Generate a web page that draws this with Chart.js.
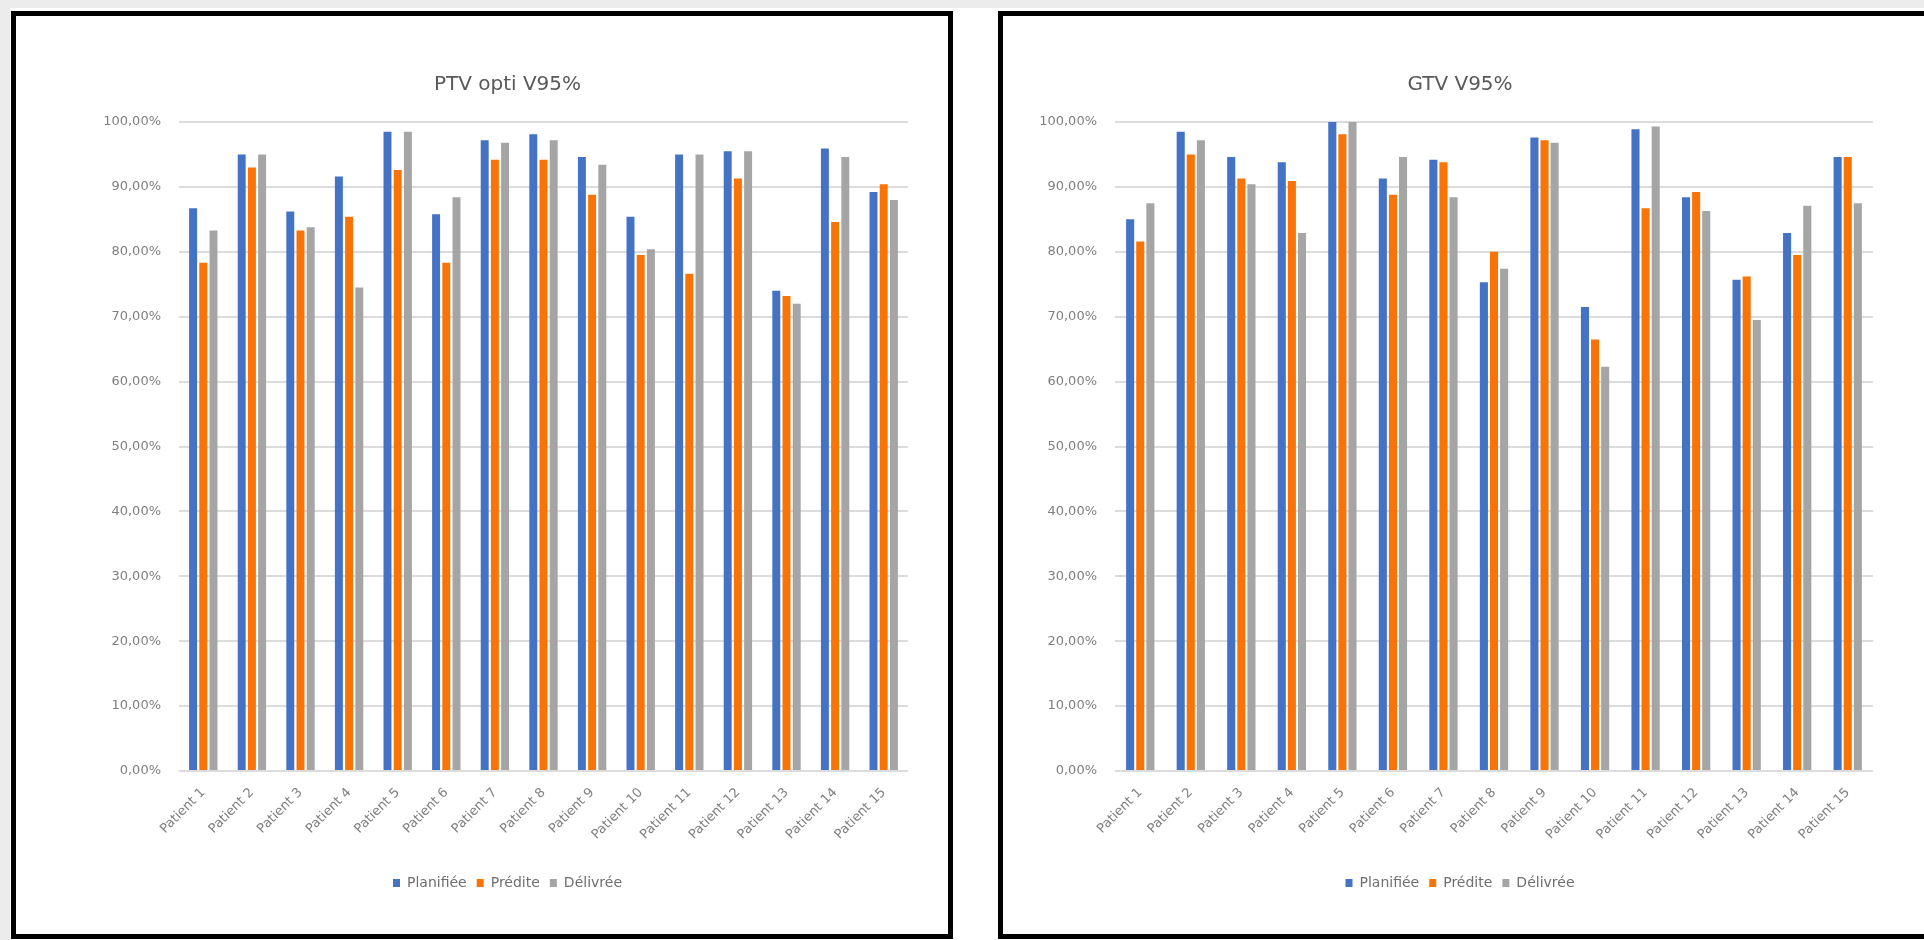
<!DOCTYPE html>
<html>
<head>
<meta charset="utf-8">
<script src="https://cdn.jsdelivr.net/npm/chart.js@4"></script>
<style>
    body { margin: 0; background: #ffffff; width: 1924px; height: 940px; overflow: hidden; position: relative; }
    .topStrip { position: absolute; left: 0; top: 0; width: 1924px; height: 8px; background: #ececec; }
    .leftStrip { position: absolute; left: 0; top: 0; width: 10px; height: 940px; background: #ececec; }
    .panel { position: absolute; border: 5px solid #000; background: #fff; box-sizing: border-box; }
    canvas { position: absolute; }
</style>
</head>
<body>
<div class="topStrip"></div>
<div class="leftStrip"></div>
<div class="panel" style="left:11px; top:11px; width:942px; height:928px;"></div>
<div class="panel" style="left:998px; top:11px; width:940px; height:928px;"></div>
<canvas id="ptvChart" width="879" height="920" style="left:68px; top:15px;"></canvas>
<canvas id="gtvChart" width="908" height="920" style="left:1006px; top:15px;"></canvas>
<script>
const patients = ["Patient 1", "Patient 2", "Patient 3", "Patient 4", "Patient 5", "Patient 6", "Patient 7", "Patient 8",
    "Patient 9", "Patient 10", "Patient 11", "Patient 12", "Patient 13", "Patient 14", "Patient 15"]
const seriesNames = ["Planifiée", "Prédite", "Délivrée"]
const seriesColors = ["#4472C4", "#FA7307", "#A5A5A5"]
const yTicks = [0, 10, 20, 30, 40, 50, 60, 70, 80, 90, 100]

// PTV opti V95% (en %)
const ptvPlanifiee = [86.7, 95.0, 86.2, 91.6, 98.5, 85.8, 97.2, 98.1, 94.6, 85.4, 95.0, 95.5, 74.0, 95.9, 89.2]
const ptvPredite = [78.3, 93.0, 83.3, 85.4, 92.6, 78.3, 94.2, 94.2, 88.8, 79.5, 76.6, 91.3, 73.2, 84.6, 90.4]
const ptvDelivree = [83.3, 95.0, 83.8, 74.5, 98.5, 88.4, 96.8, 97.2, 93.4, 80.4, 95.0, 95.5, 72.0, 94.6, 88.0]

// GTV V95% (en %)
const gtvPlanifiee = [85.0, 98.5, 94.6, 93.8, 100.0, 91.3, 94.2, 75.3, 97.6, 71.5, 98.9, 88.4, 75.7, 82.9, 94.6]
const gtvPredite = [81.6, 95.0, 91.3, 90.9, 98.1, 88.8, 93.8, 80.0, 97.2, 66.5, 86.7, 89.2, 76.2, 79.5, 94.6]
const gtvDelivree = [87.5, 97.2, 90.4, 82.9, 100.0, 94.6, 88.4, 77.4, 96.8, 62.3, 99.3, 86.3, 69.5, 87.1, 87.5]

function pct(v) {
    return v.toFixed(2).replace(".", ",") + "%"
}

function makeChart(id, title, series, axisWidth, gapRight, catPct, barPct) {
    return new Chart(id, {
        type: "bar",
        data: {
            labels: patients,
            datasets: series.map((values, i) => ({
                label: seriesNames[i],
                data: values,
                backgroundColor: seriesColors[i],
                borderWidth: 0,
                categoryPercentage: catPct,
                barPercentage: barPct
            }))
        },
        options: {
            responsive: false,
            animation: false,
            layout: { padding: { left: 0, right: 0, top: 0, bottom: 35 } },
            plugins: {
                title: {
                    display: true,
                    text: title,
                    color: "#595959",
                    font: { family: "DejaVu Sans", size: 20, weight: "normal", lineHeight: 1.2 },
                    padding: { top: 58, bottom: 25 }
                },
                legend: {
                    position: "bottom",
                    labels: {
                        color: "#6f6f6f",
                        font: { family: "DejaVu Sans", size: 14 },
                        boxWidth: 7,
                        boxHeight: 8,
                        padding: 10
                    }
                },
                tooltip: { enabled: false }
            },
            scales: {
                x: {
                    grid: { display: false, drawTicks: false },
                    border: { display: false },
                    ticks: {
                        color: "#808080",
                        font: { family: "DejaVu Sans", size: 13 },
                        minRotation: 45,
                        maxRotation: 45,
                        autoSkip: false,
                        padding: 14
                    },
                    afterFit: scale => { scale.height = 95 }
                },
                y: {
                    min: 0,
                    max: 100,
                    afterBuildTicks: scale => { scale.ticks = yTicks.map(v => ({ value: v })) },
                    grid: { color: "#dcdcdc", lineWidth: 2, drawTicks: false },
                    border: { display: false },
                    ticks: {
                        color: "#7f7f7f",
                        font: { family: "DejaVu Sans", size: 13 },
                        padding: 18,
                        callback: v => pct(v)
                    },
                    afterFit: scale => { scale.width = axisWidth }
                },
                // empty axis on the right, only keeps the space so title and legend stay centred like in Excel
                yRight: {
                    position: "right",
                    min: 0,
                    max: 100,
                    grid: { display: false, drawTicks: false },
                    border: { display: false },
                    ticks: { display: false },
                    afterFit: scale => { scale.width = gapRight }
                }
            }
        }
    })
}

makeChart("ptvChart", "PTV opti V95%", [ptvPlanifiee, ptvPredite, ptvDelivree], 111, 39, 0.63, 0.78)
makeChart("gtvChart", "GTV V95%", [gtvPlanifiee, gtvPredite, gtvDelivree], 109, 41, 0.6, 0.8)
</script>
</body>
</html>
